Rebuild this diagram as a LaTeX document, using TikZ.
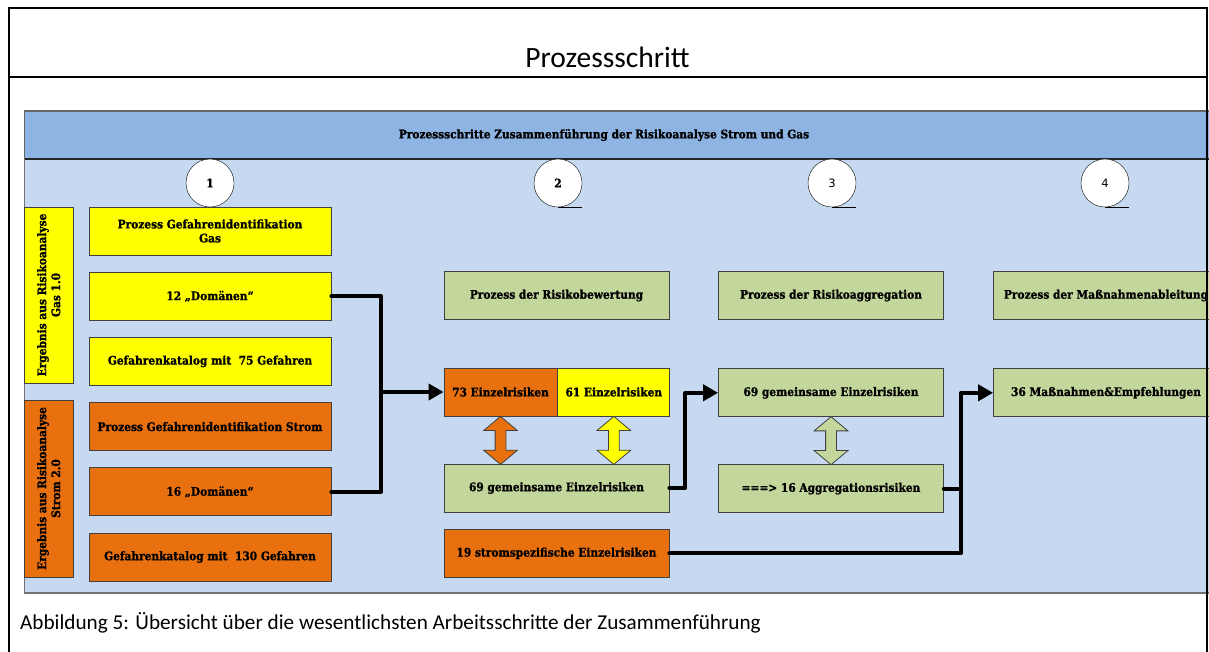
\documentclass[tikz,border=0pt]{standalone}
\usepackage{fontspec}
\setmainfont{Carlito}
\newfontfamily\slabfont[BoldFeatures={FakeBold=1.2}]{DejaVu Serif Condensed}
\newfontfamily\numfont{DejaVu Sans}
\usetikzlibrary{positioning,shapes.arrows,arrows.meta,calc}
\definecolor{hdrblue}{RGB}{141,180,227}
\definecolor{panelblue}{RGB}{198,217,241}
\definecolor{gasyellow}{RGB}{255,255,0}
\definecolor{stromorange}{RGB}{232,112,14}
\definecolor{stepgreen}{RGB}{195,214,155}
\newcommand{\bx}{\slabfont\bfseries\fontsize{11.8}{14}\selectfont}

\begin{document}
\begin{tikzpicture}[x=1pt,y=-1pt]
	\tikzstyle{card}=[rectangle, draw=black!75, line width=0.8pt, minimum height=48pt, inner sep=2pt, align=center, font=\bx]
	\tikzstyle{col1}=[card, minimum width=242pt]
	\tikzstyle{col}=[card, minimum width=225pt]
	\tikzstyle{num}=[circle, draw=black, fill=white, minimum size=48pt, inner sep=0pt, font=\bx]
	\tikzstyle{connect}=[line width=4pt, line cap=round, line join=round]
	\tikzstyle{arr}=[connect, -{Triangle[length=15pt,width=16pt]}]
	\tikzstyle{updown}=[double arrow, shape border rotate=90, draw=black!75, line width=0.8pt, minimum height=48pt, inner sep=5pt, double arrow head extend=11.5pt, double arrow tip angle=100]
	
	\useasboundingbox (0,0) rectangle (1209,651);
	\clip (0,0) rectangle (1209,651);
	
	% panel and header bar
	\fill[panelblue] (24.5,159) rectangle (1215,593);
	\draw[black!55, line width=1.6pt] (24.5,159) -- (24.5,593) -- (1215,593);
	\fill[hdrblue] (24.5,111) rectangle (1215,159);
	\draw[black!60, line width=1.4pt] (24.5,159) -- (24.5,111) -- (1215,111);
	\draw[black!85, line width=1.2pt] (24.5,159) -- (1215,159);
	\node[font=\bx] (hdr) at (604,135) {Prozessschritte Zusammenführung der Risikoanalyse Strom und Gas};
	
	% step numbers
	\node[num] (n1) at (210,183) {1};
	\node[num] (n2) at (558,183) {2};
	\node[num, font=\numfont\fontsize{11.5}{13}\selectfont] (n3) at (832,183) {3};
	\node[num, font=\numfont\fontsize{11.5}{13}\selectfont] (n4) at (1105,183) {4};
	\draw (n2.south) -- ++(24,0);
	\draw (n3.south) -- ++(24,0);
	\draw (n4.south) -- ++(24,0);
	
	% step 1
	\node[card, fill=gasyellow, rotate=90, minimum width=176pt, minimum height=48.5pt] (lgas) at (48.75,295) {Ergebnis aus Risikoanalyse\\Gas 1.0};
	\node[card, fill=stromorange, rotate=90, minimum width=177pt, minimum height=48.5pt] (lstrom) at (48.75,488.5) {Ergebnis aus Risikoanalyse\\Strom 2.0};
	\node[col1, fill=gasyellow] (pgas) at (210,231) {Prozess Gefahrenidentifikation\\Gas};
	\node[col1, fill=gasyellow] (d12) [below=16.4pt of pgas] {12 „Domänen“};
	\node[col1, fill=gasyellow] (kat75) [below=16.4pt of d12] {Gefahrenkatalog mit~ 75 Gefahren};
	\node[col1, fill=stromorange] (pstrom) [below=16.4pt of kat75] {Prozess Gefahrenidentifikation Strom};
	\node[col1, fill=stromorange] (d16) [below=16.4pt of pstrom] {16 „Domänen“};
	\node[col1, fill=stromorange] (kat130) [below=16.4pt of d16] {Gefahrenkatalog mit~ 130 Gefahren};
	
	% step 2
	\node[col, fill=stepgreen] (pbew) at (556.5,295.5) {Prozess der Risikobewertung};
	\node[card, fill=stromorange, minimum width=113pt] (e73) at (500.5,392) {73 Einzelrisiken};
	\node[card, fill=gasyellow, minimum width=112pt] (e61) [right=0pt of e73] {61 Einzelrisiken};
	\node[col, fill=stepgreen] (g69) at (556.5,488) {69 gemeinsame Einzelrisiken};
	\node[col, fill=stromorange] (s19) [below=16.5pt of g69] {19 stromspezifische Einzelrisiken};
	\node[updown, fill=stromorange] (u73) at ($(e73.south)+(0,24)$) {};
	\node[updown, fill=gasyellow] (u61) at ($(e61.south)+(0,24)$) {};
	
	% step 3
	\node[col, fill=stepgreen] (pagg) at (831,295.5) {Prozess der Risikoaggregation};
	\node[col, fill=stepgreen] (a69) [below=48.5pt of pagg] {69 gemeinsame Einzelrisiken};
	\node[col, fill=stepgreen] (agg16) [below=47pt of a69] {===> 16 Aggregationsrisiken};
	\node[updown, fill=stepgreen] (u69) at ($(a69.south)+(0,23.5)$) {};
	
	% step 4
	\node[col, fill=stepgreen] (pmas) at (1106,295.5) {Prozess der Maßnahmenableitung};
	\node[col, fill=stepgreen] (m36) [below=48.5pt of pmas] {36 Maßnahmen\&Empfehlungen};
	
	% connectors
	\coordinate (j1) at (381,392);
	\coordinate (j2) at ($(m36.west)+(-32,0)$);
	\draw[connect] (d12.east) -| (j1);
	\draw[connect] (d16.east) -| (j1);
	\draw[arr] (j1) -- (e73.west);
	\draw[arr] (g69.east) -- ++(16,0) |- (a69.west);
	\draw[connect] (agg16.east) -- (agg16.east -| j2);
	\draw[arr] (s19.east) -| (j2) -- (m36.west);
	
	% table frame and texts
	\draw[line width=2pt] (8.7,660) -- (8.7,7.7) -- (1206.7,7.7) -- (1206.7,660);
	\draw[line width=2pt] (8.7,77) -- (1206.7,77);
	\node[anchor=base, font=\fontsize{29.5}{34}\selectfont] (title) at (607.5,67) {Prozessschritt};
	\node[anchor=base west, inner sep=0pt, font=\fontsize{21.2}{25}\selectfont] (cap) at (20,629) {Abbildung 5: Übersicht über die wesentlichsten Arbeitsschritte der Zusammenführung};
\end{tikzpicture}
\end{document}
